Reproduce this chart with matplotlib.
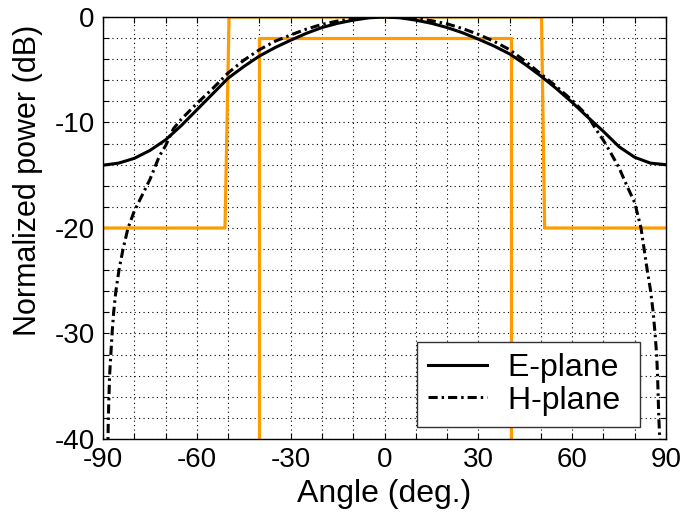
import numpy as np
import matplotlib
matplotlib.use("Agg")
import matplotlib.pyplot as plt
from matplotlib.ticker import MultipleLocator

plt.rcParams['font.family'] = ['Liberation Sans', 'DejaVu Sans']
plt.rcParams['axes.unicode_minus'] = False

# E-plane pattern (deg, dB)
e_angle = [-90, -85, -80, -75, -70, -65, -60, -55, -50, -45, -40, -35, -30, -25, -20, -15, -10, -5, 0,
           5, 10, 15, 20, 25, 30, 35, 40, 45, 50, 55, 60, 65, 70, 75, 80, 85, 90]
e_power = [-14.05, -13.85, -13.4, -12.65, -11.65, -10.3, -8.8, -7.3, -5.8, -4.7, -3.7, -2.9, -2.2, -1.55, -1.0, -0.6, -0.3, -0.08, 0.0,
           -0.08, -0.3, -0.6, -1.0, -1.5, -2.1, -2.75, -3.5, -4.5, -5.6, -6.8, -8.1, -9.5, -10.85, -12.3, -13.3, -13.85, -14.0]

# H-plane pattern
h_angle = [-88.6, -88.4, -88.3, -88.1, -87.9, -87.5, -87.1, -86.6, -85.9, -84.9, -83.6, -82.0, -80, -78, -75, -72, -70,
           -67.5, -65, -60, -55, -50, -45, -40, -35, -30, -25, -20, -15, -10, -5, 0,
           5, 10, 15, 20, 25, 30, 35, 40, 45, 50, 55, 60, 65, 67.5, 70, 72, 75, 77.5, 80,
           82.0, 83.0, 84.0, 85.1, 85.9, 86.5, 87.0, 87.3, 87.5, 87.7, 88.0, 88.3]
h_power = [-45, -40, -38, -36, -34, -32, -30, -28, -26, -24, -22, -20, -18.4, -17.2, -15.4, -13.2, -12.2,
           -10.6, -9.7, -8.2, -6.8, -5.3, -4.1, -3.1, -2.3, -1.7, -1.15, -0.7, -0.38, -0.16, -0.04, 0.0,
           -0.04, -0.15, -0.35, -0.65, -1.1, -1.65, -2.3, -3.1, -4.2, -5.4, -6.6, -7.9, -9.4, -10.6, -11.7, -12.7, -14.3, -16.0, -17.6,
           -20, -22, -24, -26, -28, -30, -32, -34, -36, -38, -40, -45]

# mask lines (orange)
outer_angle = [-90, -51.0, -49.7, 50.2, 51.2, 90]
outer_power = [-20, -20, 0, 0, -20, -20]
inner_angle = [-40, -40, 40.5, 40.5]
inner_power = [-45, -2, -2, -45]

orange = '#FF9C00'

fig = plt.figure(figsize=(6.84, 5.15), dpi=100)
ax = fig.add_axes([0.1506, 0.1476, 0.8231, 0.8194])

ax.plot(outer_angle, outer_power, color=orange, lw=2.3)
ax.plot(inner_angle, inner_power, color=orange, lw=2.3)
l1, = ax.plot(e_angle, e_power, color='black', lw=2.2, label='E-plane ')
l2, = ax.plot(h_angle, h_power, color='black', lw=2.2, linestyle=(0, (3.0, 1.3, 0.8, 1.3)), label='H-plane ')

ax.set_xlim(-90, 90)
ax.set_ylim(-40, 0)
ax.xaxis.set_major_locator(MultipleLocator(30))
ax.xaxis.set_minor_locator(MultipleLocator(10))
ax.yaxis.set_major_locator(MultipleLocator(10))
ax.yaxis.set_minor_locator(MultipleLocator(2))
ax.grid(True, which='both', color='black', linestyle=(0, (1, 3)), lw=0.8)
ax.set_axisbelow(True)

ax.tick_params(which='both', direction='in', top=True, right=True, length=4, width=0.8,
               labelsize=20, pad=6)
for s in ax.spines.values():
    s.set_linewidth(1.0)

ax.set_xlabel('Angle (deg.)', fontsize=23, labelpad=4)
ax.set_ylabel('Normalized power (dB)', fontsize=22)
ax.yaxis.set_label_coords(-0.107, 0.614)

leg = ax.legend(handles=[l1, l2], loc='lower right', bbox_to_anchor=(0.954, 0.029),
                borderaxespad=0, fontsize=23, fancybox=False, framealpha=1,
                edgecolor='#333333', handlelength=1.85, handletextpad=0.65,
                labelspacing=0.08, borderpad=0.35)
leg.get_frame().set_linewidth(1.0)

fig.savefig('out.png', dpi=100)
